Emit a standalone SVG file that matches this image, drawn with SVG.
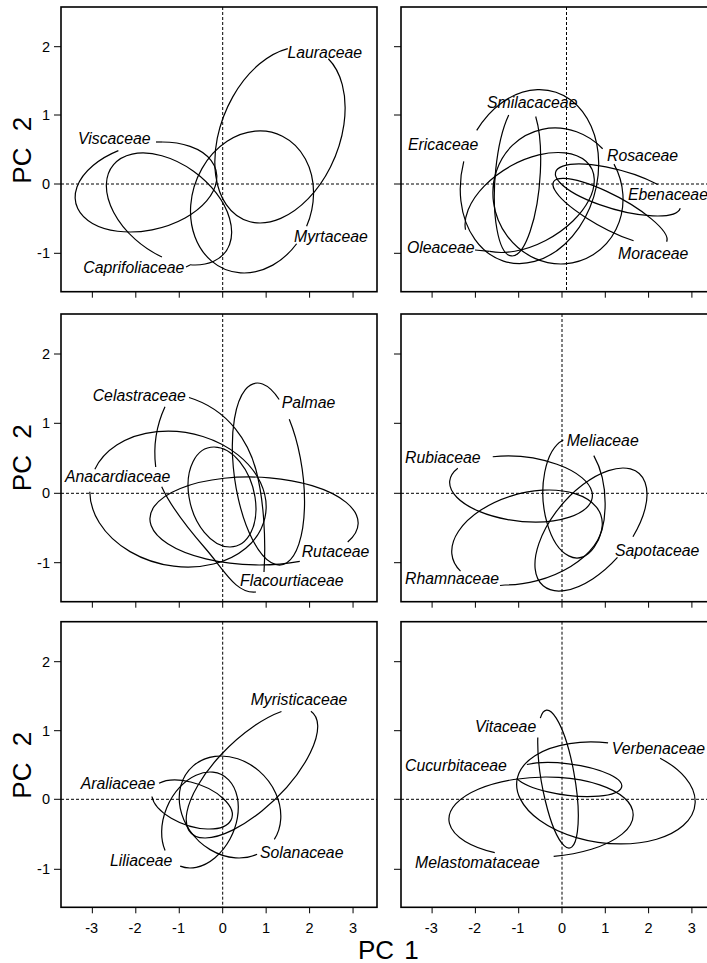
<svg xmlns="http://www.w3.org/2000/svg" width="707" height="963" viewBox="0 0 707 963">
<style>
.frame{fill:none;stroke:#000;stroke-width:1.6}
.tick{fill:none;stroke:#000;stroke-width:1}
.zero{fill:none;stroke:#000;stroke-width:1;stroke-dasharray:3 2}
.ell{fill:none;stroke:#000;stroke-width:1.2;vector-effect:non-scaling-stroke}
.crv{fill:none;stroke:#000;stroke-width:1.2}
.lbl{font-family:"Liberation Sans",Arial,sans-serif;font-style:italic;font-size:15.8px;fill:#000}
.tl{font-family:"Liberation Sans",Arial,sans-serif;font-size:14.5px;fill:#000}
.ax{font-family:"Liberation Sans",Arial,sans-serif;font-size:26px;fill:#000}
</style>
<rect width="707" height="963" fill="#fff"/>

<!-- axes / frames -->
<g id="axes">
  <g id="panel1-frame">
    <rect class="frame" x="61" y="7" width="316" height="284.7"/>
    <path class="zero" d="M61,184H377M222.7,7V291.7"/>
    <path class="tick" d="M54,46.7H61M54,115H61M54,184H61M54,253.3H61M92.35,291.7v6M135.8,291.7v6M179.25,291.7v6M222.7,291.7v6M266.15,291.7v6M309.6,291.7v6M353.05,291.7v6"/>
  </g>
  <g id="panel2-frame">
    <rect class="frame" x="401" y="7" width="330" height="284.7"/>
    <path class="zero" d="M401,184H707M566.5,7V291.7"/>
    <path class="tick" d="M394,46.7H401M394,115H401M394,184H401M394,253.3H401M432.1,291.7v6M475.4,291.7v6M518.7,291.7v6M562,291.7v6M605.3,291.7v6M648.6,291.7v6M691.9,291.7v6"/>
  </g>
  <g id="panel3-frame">
    <rect class="frame" x="61" y="314" width="316" height="287.7"/>
    <path class="zero" d="M61,493.3H377M222.7,314V601.7"/>
    <path class="tick" d="M54,354H61M54,423.3H61M54,493.3H61M54,562.7H61M92.35,601.7v6M135.8,601.7v6M179.25,601.7v6M222.7,601.7v6M266.15,601.7v6M309.6,601.7v6M353.05,601.7v6"/>
  </g>
  <g id="panel4-frame">
    <rect class="frame" x="401" y="314" width="330" height="287.7"/>
    <path class="zero" d="M401,493.3H707M562,314V601.7"/>
    <path class="tick" d="M394,354H401M394,423.3H401M394,493.3H401M394,562.7H401M432.1,601.7v6M475.4,601.7v6M518.7,601.7v6M562,601.7v6M605.3,601.7v6M648.6,601.7v6M691.9,601.7v6"/>
  </g>
  <g id="panel5-frame">
    <rect class="frame" x="61" y="621.7" width="316" height="285.6"/>
    <path class="zero" d="M61,799.3H377M222.7,621.7V907.3"/>
    <path class="tick" d="M54,661.7H61M54,730.7H61M54,799.3H61M54,869.3H61M92.35,907.3v6M135.8,907.3v6M179.25,907.3v6M222.7,907.3v6M266.15,907.3v6M309.6,907.3v6M353.05,907.3v6"/>
  </g>
  <g id="panel6-frame">
    <rect class="frame" x="401" y="621.7" width="330" height="285.6"/>
    <path class="zero" d="M401,799.3H707M562,621.7V907.3"/>
    <path class="tick" d="M394,661.7H401M394,730.7H401M394,799.3H401M394,869.3H401M432.1,907.3v6M475.4,907.3v6M518.7,907.3v6M562,907.3v6M605.3,907.3v6M648.6,907.3v6M691.9,907.3v6"/>
  </g>
  <g id="tick-labels" class="tl">
    <g text-anchor="end">
      <text x="50" y="51.7">2</text><text x="50" y="120">1</text><text x="50" y="189">0</text><text x="50" y="258.3">-1</text>
      <text x="50" y="359">2</text><text x="50" y="428.3">1</text><text x="50" y="498.3">0</text><text x="50" y="567.7">-1</text>
      <text x="50" y="666.7">2</text><text x="50" y="735.7">1</text><text x="50" y="804.3">0</text><text x="50" y="874.3">-1</text>
    </g>
    <g text-anchor="middle">
      <text x="91.6" y="933">-3</text><text x="135" y="933">-2</text><text x="178.5" y="933">-1</text><text x="222.7" y="933">0</text><text x="266.15" y="933">1</text><text x="309.6" y="933">2</text><text x="353.05" y="933">3</text>
      <text x="431.3" y="933">-3</text><text x="474.6" y="933">-2</text><text x="517.9" y="933">-1</text><text x="562" y="933">0</text><text x="605.3" y="933">1</text><text x="648.6" y="933">2</text><text x="691.9" y="933">3</text>
    </g>
  </g>
  <g id="axis-titles" class="ax">
    <text transform="translate(30.5,183.7) rotate(-90)">PC<tspan dx="9"> 2</tspan></text>
    <text transform="translate(30.5,491.2) rotate(-90)">PC<tspan dx="9"> 2</tspan></text>
    <text transform="translate(30.5,798.7) rotate(-90)">PC<tspan dx="9"> 2</tspan></text>
    <text x="358" y="958.5">PC<tspan dx="3"> 1</tspan></text>
  </g>
</g>

<!-- Panel 1 -->
<g id="Viscaceae">
  <path class="ell" transform="matrix(0.69 0 -0.16 0.45 146 187)" d="M0,-100A100,100 0 1 1 -58.8,-80.9"/>
  <text class="lbl" x="78" y="144">Viscaceae</text>
</g>
<g id="Caprifoliaceae">
  <path class="ell" transform="matrix(0.57 0 0.26 0.56 169 209)" d="M-51.5,85.7A100,100 0 1 1 -8.7,99.6"/>
  <text class="lbl" x="83.3" y="273.3">Caprifoliaceae</text>
</g>
<g id="Lauraceae">
  <path class="ell" transform="matrix(0.62 0 -0.20 0.88 280 135)" d="M50,-86.6A100,100 0 1 1 -19.1,-98.2"/>
  <text class="lbl" x="287.5" y="58">Lauraceae</text>
</g>
<g id="Myrtaceae">
  <path class="ell" transform="matrix(0.61 0 -0.08 0.71 252 202)" d="M80.9,58.8A100,100 0 1 1 94,34.2"/>
  <text class="lbl" x="294" y="241.7">Myrtaceae</text>
</g>

<!-- Panel 2 -->
<g id="Ericaceae">
  <path class="ell" transform="matrix(0.685 0 -0.10 0.87 529.5 176.5)" d="M-84.8,-53A100,100 0 1 1 -98.5,-17.4"/>
  <text class="lbl" x="408" y="149.7">Ericaceae</text>
</g>
<g id="Smilacaceae">
  <path class="ell" transform="matrix(0.225 0 -0.055 0.78 517.5 178)" d="M61.6,-78.8A100,100 0 1 1 -58.8,-80.9"/>
  <text class="lbl" x="487" y="108">Smilacaceae</text>
</g>
<g id="Rosaceae">
  <path class="ell" transform="matrix(0.65 0 0.03 0.68 558 196)" d="M88.3,-46.9A100,100 0 1 1 71.9,-69.5"/>
  <text class="lbl" x="607" y="160.7">Rosaceae</text>
</g>
<g id="Oleaceae">
  <path class="ell" transform="matrix(0.58 0 -0.285 0.50 529.7 202.5)" d="M-83.9,54.5A100,100 0 1 1 -20.8,97.8"/>
  <text class="lbl" x="407" y="252.7">Oleaceae</text>
</g>
<g id="Ebenaceae">
  <path class="ell" transform="matrix(0.49 0 0.39 0.26 618 190)" d="M71.3,70.1A100,100 0 1 1 97.8,-20.8"/>
  <text class="lbl" x="628" y="200">Ebenaceae</text>
</g>
<g id="Moraceae">
  <path class="ell" transform="matrix(0.324 0 0.47 0.336 610 212)" d="M-51.5,85.7A100,100 0 1 1 46.9,88.3"/>
  <text class="lbl" x="618" y="258.7">Moraceae</text>
</g>

<!-- Panel 3 -->
<g id="Anacardiaceae">
  <path class="ell" transform="matrix(0.876 0 0.10 0.68 178 499)" d="M-89.9,-43.8A100,100 0 1 1 -99.5,-10.5"/>
  <text class="lbl" x="65" y="482">Anacardiaceae</text>
</g>
<g id="Rutaceae">
  <path class="ell" transform="matrix(1.04 0 0.05 0.44 254 521)" d="M39.6,91.8A100,100 0 1 1 87.8,47.9"/>
  <text class="lbl" x="301.7" y="556.7">Rutaceae</text>
</g>
<g id="Palmae">
  <path class="ell" transform="matrix(0.344 0 0.11 0.91 268.4 474)" d="M79.9,-60.2A100,100 0 1 1 57.4,-81.9"/>
  <text class="lbl" x="281.7" y="407.7">Palmae</text>
</g>
<g id="Celastraceae">
  <path class="crv" d="M165,406.7C157,424 153,445 155.7,467"/>
  <path class="crv" d="M161.7,486.7C170,505 185,525 205,548S236,594 256,592"/>
  <path class="crv" d="M264,572C266,540 264,500 256,470C249,444 230,410 189,397.5"/>
  <text class="lbl" x="92.7" y="401.3">Celastraceae</text>
</g>
<g id="Flacourtiaceae">
  <path class="ell" transform="matrix(0.33 0 0.08 0.50 222 497)" d="M100,0A100,100 0 1 1 -100,0A100,100 0 1 1 100,0"/>
  <text class="lbl" x="240" y="586">Flacourtiaceae</text>
</g>

<!-- Panel 4 -->
<g id="Rubiaceae">
  <path class="ell" transform="matrix(0.70 0 0.14 0.33 521 489)" d="M-20.8,-97.8A100,100 0 1 1 -77.7,-62.9"/>
  <text class="lbl" x="405" y="462.7">Rubiaceae</text>
</g>
<g id="Meliaceae">
  <path class="ell" transform="matrix(0.31 0 0.03 0.60 574 498)" d="M70.7,-70.7A100,100 0 1 1 -25,-96.8"/>
  <text class="lbl" x="566.7" y="446">Meliaceae</text>
</g>
<g id="Sapotaceae">
  <path class="ell" transform="matrix(0.46 0 -0.32 0.615 591 529.5)" d="M89.1,45.4A100,100 0 1 1 99.3,11.7"/>
  <text class="lbl" x="615" y="556">Sapotaceae</text>
</g>
<g id="Rhamnaceae">
  <path class="ell" transform="matrix(0.72 0 -0.22 0.475 527 537.5)" d="M-70.7,70.7A100,100 0 1 1 0,100"/>
  <text class="lbl" x="405" y="584.3">Rhamnaceae</text>
</g>

<!-- Panel 5 -->
<g id="Myristicaceae">
  <path class="ell" transform="matrix(0.46 0 -0.47 0.65 252 773)" d="M30.9,-95.1A100,100 0 1 1 -32.6,-94.6"/>
  <text class="lbl" x="250.7" y="705.3">Myristicaceae</text>
</g>
<g id="Araliaceae">
  <path class="ell" transform="matrix(0.365 0 0.17 0.245 192 804.5)" d="M-50,-86.6A100,100 0 1 1 -94.6,-32.6"/>
  <text class="lbl" x="80.7" y="789.3">Araliaceae</text>
</g>
<g id="Solanaceae">
  <path class="ell" transform="matrix(0.50 0 0.09 0.51 230 807)" d="M37.5,92.7A100,100 0 1 1 77.2,63.6"/>
  <text class="lbl" x="260" y="857.7">Solanaceae</text>
</g>
<g id="Liliaceae">
  <path class="ell" transform="matrix(0.37 0 -0.10 0.48 200 820)" d="M-77.2,63.6A100,100 0 1 1 -27.6,96.1"/>
  <text class="lbl" x="110" y="866">Liliaceae</text>
</g>

<!-- Panel 6 -->
<g id="Vitaceae">
  <path class="ell" transform="matrix(0.17 0 0.11 0.69 558 779)" d="M-46.9,-88.3A100,100 0 1 1 -79.9,-60.2"/>
  <text class="lbl" x="475" y="732">Vitaceae</text>
</g>
<g id="Verbenaceae">
  <path class="ell" transform="matrix(0.88 0 0.15 0.51 606 793)" d="M73.1,-68.2A100,100 0 1 1 19.1,-98.2"/>
  <text class="lbl" x="611.7" y="753.7">Verbenaceae</text>
</g>
<g id="Cucurbitaceae">
  <path class="ell" transform="matrix(0.50 0 0.20 0.17 568 779.5)" d="M-46.9,-88.3A100,100 0 1 1 -99.8,-7"/>
  <text class="lbl" x="405" y="771">Cucurbitaceae</text>
</g>
<g id="Melastomataceae">
  <path class="ell" transform="matrix(0.92 0 -0.05 0.40 541 817)" d="M-45.4,89.1A100,100 0 1 1 19.1,98.2"/>
  <text class="lbl" x="415" y="867.7">Melastomataceae</text>
</g>

<!-- leader connectors -->
<g id="connectors" class="crv">
  <path d="M156,142H162"/>
  <path d="M186,267L190,265"/>
  <path d="M475,250L489.7,251.4"/>
  <path d="M500,585.5L505,585"/>
</g>
</svg>
